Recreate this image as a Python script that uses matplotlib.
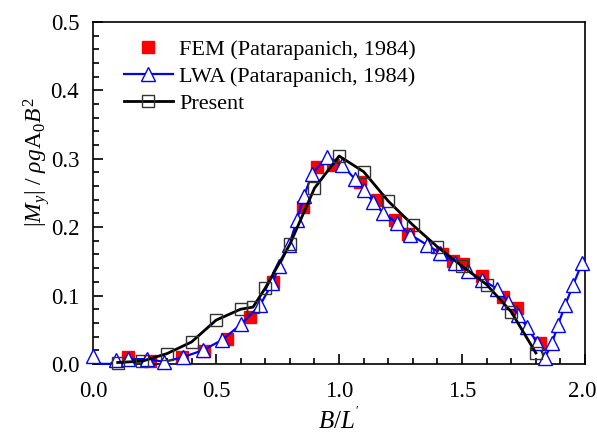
import matplotlib
matplotlib.use("Agg")
import matplotlib.pyplot as plt
from matplotlib.ticker import MultipleLocator, FormatStrFormatter
from matplotlib.transforms import ScaledTranslation

plt.rcParams['font.family'] = ['Liberation Serif', 'DejaVu Serif']
plt.rcParams['mathtext.fontset'] = 'custom'
plt.rcParams['mathtext.rm'] = 'Liberation Serif'
plt.rcParams['mathtext.it'] = 'Liberation Serif:italic'
plt.rcParams['mathtext.bf'] = 'Liberation Serif:bold'

# FEM (Patarapanich, 1984)
fem_x = [0.142, 0.232, 0.362, 0.451, 0.545, 0.638, 0.732, 0.854, 0.911, 0.976,
         1.085, 1.154, 1.228, 1.280, 1.419, 1.463, 1.504, 1.581, 1.667, 1.724, 1.817]
fem_y = [0.010, 0.004, 0.010, 0.019, 0.037, 0.069, 0.120, 0.230, 0.288, 0.291,
         0.266, 0.240, 0.211, 0.190, 0.161, 0.151, 0.146, 0.129, 0.098, 0.082, 0.031]

# LWA (Patarapanich, 1984): line points and marker flags
lwa_x = [0.0, 0.03, 0.07, 0.093, 0.11, 0.142, 0.22, 0.289, 0.366, 0.447, 0.524, 0.602,
         0.679, 0.728, 0.756, 0.797, 0.829, 0.858, 0.89, 0.951, 1.012, 1.065, 1.102,
         1.138, 1.179, 1.236, 1.289, 1.358, 1.411, 1.472, 1.524, 1.581, 1.642, 1.687,
         1.728, 1.764, 1.805, 1.837, 1.866, 1.89, 1.919, 1.951, 1.988]
lwa_y = [0.012, 0.0, 0.0, 0.006, 0.001, 0.007, 0.007, 0.003, 0.010, 0.020, 0.035, 0.058,
         0.086, 0.118, 0.143, 0.174, 0.211, 0.246, 0.278, 0.303, 0.291, 0.270, 0.254,
         0.237, 0.221, 0.206, 0.189, 0.174, 0.162, 0.148, 0.136, 0.123, 0.110, 0.091,
         0.072, 0.054, 0.031, 0.009, 0.031, 0.057, 0.086, 0.115, 0.148]
lwa_marker = [i for i in range(len(lwa_x)) if i not in (1, 2, 4)]

# Present
pres_x = [0.1, 0.2, 0.3, 0.4, 0.5, 0.6, 0.65, 0.7, 0.8, 0.9, 1.0, 1.1, 1.2, 1.3,
          1.4, 1.5, 1.6, 1.7, 1.8]
pres_y = [0.002, 0.004, 0.015, 0.032, 0.064, 0.080, 0.083, 0.111, 0.175, 0.257,
          0.304, 0.281, 0.238, 0.203, 0.171, 0.143, 0.116, 0.076, 0.016]

fig = plt.figure(figsize=(5.97, 4.40), dpi=100)
ax = fig.add_axes([0.156, 0.173, 0.824, 0.777])

ax.plot(fem_x, fem_y, linestyle='none', marker='s', ms=8, color='#ff0000',
        mec='#ff0000', label='FEM (Patarapanich, 1984)', clip_on=False, zorder=2)
ax.plot(lwa_x, lwa_y, color='#0000ff', lw=1.6, marker='^', ms=10, mfc='white',
        mec='#0000ff', mew=1.0, markevery=lwa_marker,
        label='LWA (Patarapanich, 1984)', clip_on=False, zorder=3)
ax.plot(pres_x, pres_y, color='black', lw=2.0, marker='s', ms=8, mfc='none',
        mec='#333333', mew=1.0, label='Present', clip_on=False, zorder=4)

ax.set_xlim(0, 2.0)
ax.set_ylim(0, 0.5)
ax.xaxis.set_major_locator(MultipleLocator(0.5))
ax.xaxis.set_minor_locator(MultipleLocator(0.1))
ax.yaxis.set_major_locator(MultipleLocator(0.1))
ax.yaxis.set_minor_locator(MultipleLocator(0.02))
ax.xaxis.set_major_formatter(FormatStrFormatter('%.1f'))
ax.yaxis.set_major_formatter(FormatStrFormatter('%.1f'))
ax.tick_params(which='both', direction='in', top=False, right=False,
               labelsize=16.5, width=1.2)
ax.tick_params(which='major', length=7)
ax.tick_params(axis='x', which='major', pad=12)
ax.tick_params(axis='y', which='major', pad=10)
ax.tick_params(which='minor', length=4)
for s in ax.spines.values():
    s.set_linewidth(1.2)

ax.set_xlabel(r"$B/L^{'}$", fontsize=18, labelpad=4)
ax.set_ylabel(r"$|M_y|\ /\ \rho g\mathrm{A}_0B^2$", fontsize=17)
ax.yaxis.set_label_coords(-0.084, 0.59)

ax.legend(loc='upper left', bbox_to_anchor=(0.035, 0.989), frameon=False,
          fontsize=16, handlelength=2.2, handletextpad=0.3, labelspacing=0.3,
          borderaxespad=0.2)

# nudge the last x tick label so it stays inside the canvas
fig.canvas.draw()
last = ax.xaxis.get_major_ticks()[-1]
for t in ax.xaxis.get_major_ticks():
    if abs(t.get_loc() - 2.0) < 1e-9:
        last = t
last.label1.set_transform(last.label1.get_transform() +
                          ScaledTranslation(-3 / 100, 0, fig.dpi_scale_trans))

fig.savefig('out.png', dpi=100)
